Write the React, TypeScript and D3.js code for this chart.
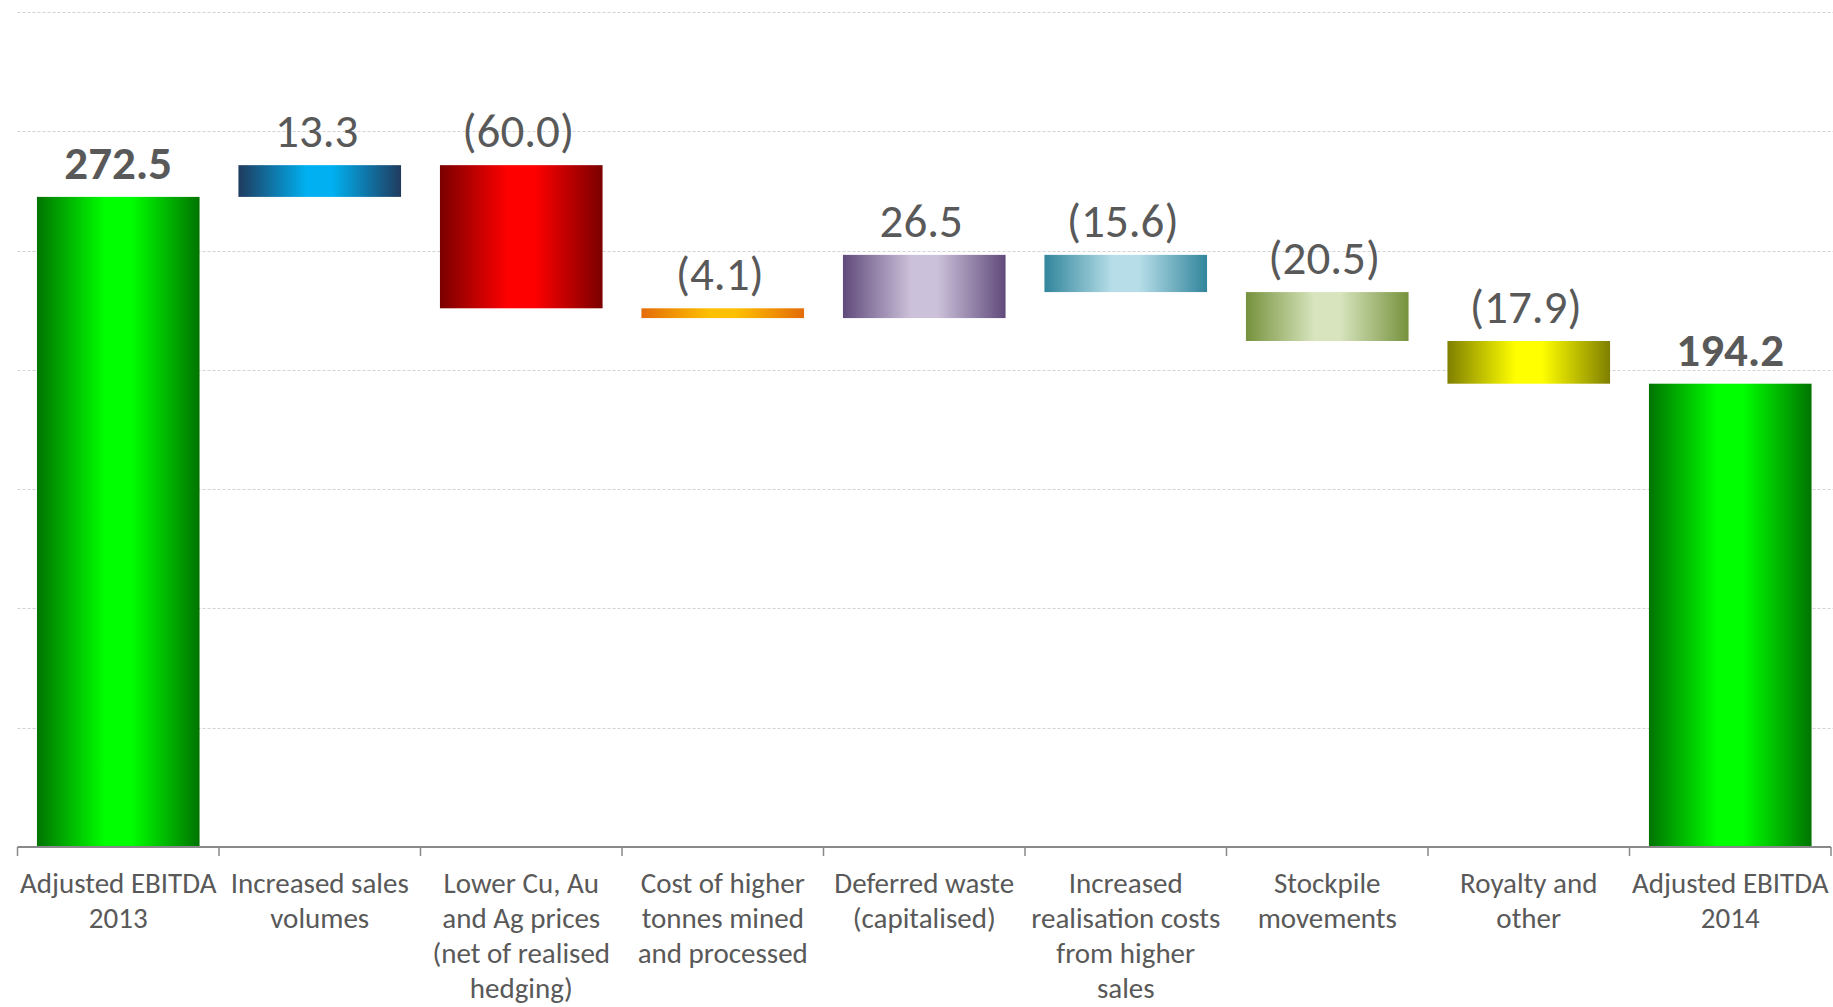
import React from "react";
import * as d3 from "d3";

const categories = [
  "Adjusted EBITDA\n2013",
  "Increased sales\nvolumes",
  "Lower Cu, Au\nand Ag prices\n(net of realised\nhedging)",
  "Cost of higher\ntonnes mined\nand processed",
  "Deferred waste\n(capitalised)",
  "Increased\nrealisation costs\nfrom higher\nsales",
  "Stockpile\nmovements",
  "Royalty and\nother",
  "Adjusted EBITDA\n2014",
];
const values = [272.5, 13.3, -60.0, -4.1, 26.5, -15.6, -20.5, -17.9, 194.2];
const isTotal = [true, false, false, false, false, false, false, false, true];
const yTicks = [0, 50, 100, 150, 200, 250, 300, 350];
const edgeColors = ["#007400", "#1f3b5e", "#7a0000", "#e36c09", "#604a7b", "#31859c", "#76923c", "#7f7f00", "#007400"];
const centerColors = ["#00ff00", "#00b0f0", "#ff0000", "#ffc000", "#ccc1da", "#b7dee8", "#d7e4bd", "#ffff00", "#00ff00"];

const W = 1833;
const H = 1007;
const FONT = "Carlito, 'Liberation Sans Narrow', Lato, sans-serif";

function fmt(v: number, total: boolean) {
  if (total) return v.toFixed(1);
  return v < 0 ? `(${Math.abs(v).toFixed(1)})` : v.toFixed(1);
}

export default function App() {
  const left = 17.5;
  const right = 1831;
  const axisY = 847;
  const x = d3.scaleBand<number>().domain(d3.range(categories.length)).range([left, right]).paddingInner(0.193).paddingOuter(0.0965);
  const y = d3.scaleLinear().domain([0, 350]).range([axisY, 12]);
  const step = (right - left) / categories.length;

  let cum = 0;
  const bars = values.map((v, i) => {
    let lo: number, hi: number;
    if (isTotal[i]) {
      lo = 0;
      hi = v;
      cum = v;
    } else {
      const prev = cum;
      cum = prev + v;
      lo = Math.min(prev, cum);
      hi = Math.max(prev, cum);
    }
    return { i, v, lo, hi };
  });

  return (
    <svg width={W} height={H} style={{ position: "absolute", left: 0, top: 0, background: "#fff" }}>
      <defs>
        {edgeColors.map((c, i) => (
          <linearGradient key={i} id={`g${i}`} x1="0" x2="1" y1="0" y2="0">
            <stop offset="0" stopColor={c} />
            <stop offset="0.42" stopColor={centerColors[i]} />
            <stop offset="0.58" stopColor={centerColors[i]} />
            <stop offset="1" stopColor={c} />
          </linearGradient>
        ))}
      </defs>
      {yTicks.slice(1).map((t) => (
        <line key={t} x1={left} x2={W} y1={Math.round(y(t)) + 0.5} y2={Math.round(y(t)) + 0.5} stroke="#d2d2d2" strokeWidth={1} strokeDasharray="3 2" />
      ))}
      {bars.map((b) => (
        <rect key={b.i} x={x(b.i)} width={x.bandwidth()} y={y(b.hi)} height={y(b.lo) - y(b.hi)} fill={`url(#g${b.i})`} />
      ))}
      {bars.map((b) => (
        <text
          key={"v" + b.i}
          x={(x(b.i) as number) + x.bandwidth() / 2 - (isTotal[b.i] ? 0 : 3)}
          y={y(b.hi) - 18}
          textAnchor="middle"
          fontFamily={FONT}
          fontSize={47}
          fontWeight={isTotal[b.i] ? "bold" : "normal"}
          fill="#595959"
        >
          {fmt(b.v, isTotal[b.i])}
        </text>
      ))}
      <line x1={left} x2={right} y1={axisY} y2={axisY} stroke="#898989" strokeWidth={2} />
      {d3.range(categories.length + 1).map((k) => (
        <line key={"t" + k} x1={left + k * step} x2={left + k * step} y1={axisY} y2={axisY + 9} stroke="#898989" strokeWidth={1.5} />
      ))}
      {categories.map((c, i) => (
        <text key={"c" + i} textAnchor="middle" fontFamily={FONT} fontSize={29} fill="#595959">
          {c.split("\n").map((line, j) => (
            <tspan key={j} x={(x(i) as number) + x.bandwidth() / 2} y={893 + j * 35}>
              {line}
            </tspan>
          ))}
        </text>
      ))}
    </svg>
  );
}
